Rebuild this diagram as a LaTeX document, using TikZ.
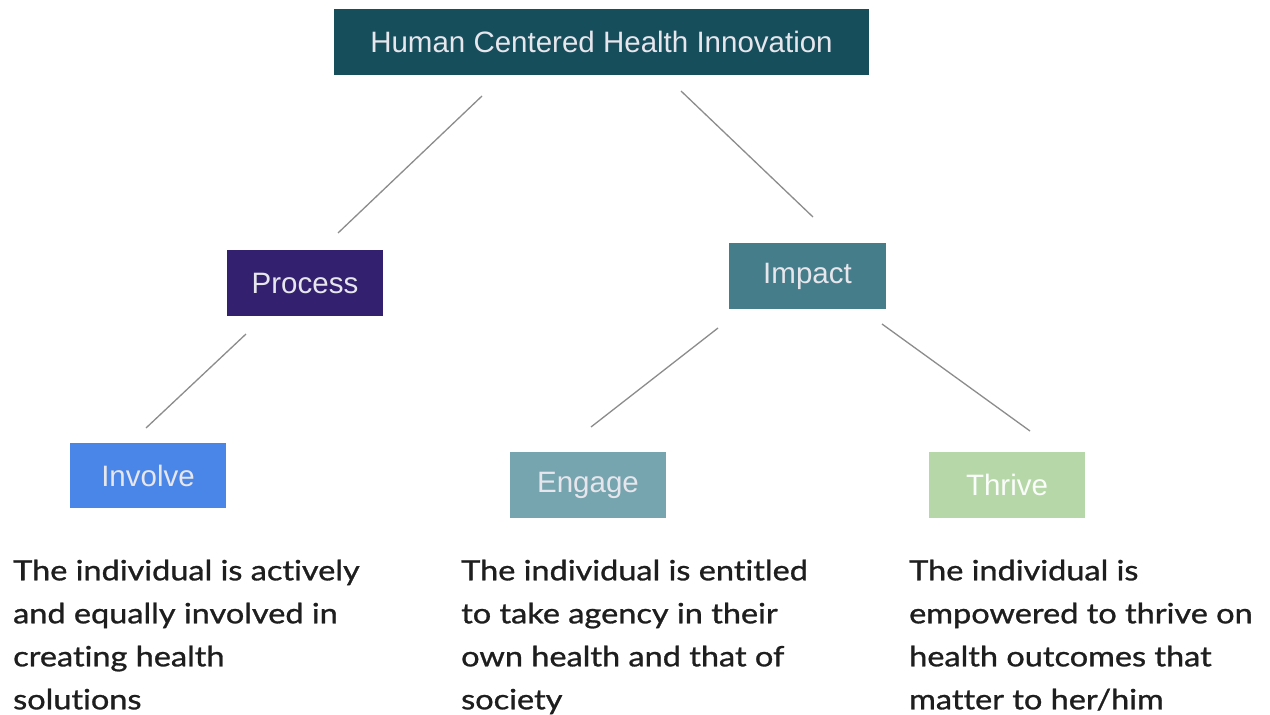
\documentclass[tikz,border=0pt]{standalone}
\usepackage{fontspec}
\setmainfont{Liberation Sans}
\newfontfamily\bodyfont[Ligatures=NoCommon, FakeStretch=1.16, FakeBold=1.0]{Lato}
\definecolor{hchiTop}{HTML}{164E5C}
\definecolor{hchiProcess}{HTML}{33206E}
\definecolor{hchiImpact}{HTML}{457E8A}
\definecolor{hchiInvolve}{HTML}{4A86E8}
\definecolor{hchiEngage}{HTML}{76A5AF}
\definecolor{hchiThrive}{HTML}{B6D7A8}
\definecolor{hchiLabel}{HTML}{E6E6EC}
\definecolor{hchiLink}{HTML}{8C8C8C}
\definecolor{hchiBody}{HTML}{1E1E1E}
\tikzset{
  box/.style={rectangle, inner sep=0pt, minimum width=156pt, minimum height=66pt,
    text=hchiLabel, font=\fontsize{29.5}{31}\selectfont},
  link/.style={draw=hchiLink, line width=1.3pt},
  caption/.style={anchor=north west, inner sep=0pt, align=left, text=hchiBody,
    font=\bodyfont\fontsize{28}{43}\selectfont},
}
\begin{document}
\begin{tikzpicture}[x=1pt, y=-1pt]
\useasboundingbox[fill=white] (0,0) rectangle (1270,715);

% boxes
\node[box, fill=hchiTop, minimum width=535pt] (top) at (601.5,42) {Human Centered Health Innovation};
\node[box, fill=hchiProcess] (process) at (305,283) {Process};
\node[box, fill=hchiImpact, minimum width=157pt] (impact) at (807.5,276) {Impact};
\node[box, fill=hchiInvolve, minimum height=65pt] (involve) at (148,475.5) {Involve};
\node[box, fill=hchiEngage] (engage) at (588,485) {Engage};
\node[box, fill=hchiThrive, text=white!95!hchiThrive] (thrive) at (1007,485) {Thrive};

% free-floating connector ends
\coordinate (topL) at (482,96);
\coordinate (procT) at (338,233);
\coordinate (topR) at (681,91);
\coordinate (impT) at (813,217);
\coordinate (procB) at (246,334);
\coordinate (invT) at (146,428);
\coordinate (impBL) at (718,328);
\coordinate (engT) at (591,427);
\coordinate (impBR) at (882,324);
\coordinate (thrT) at (1030,431);

\draw[link] (topL) -- (procT);
\draw[link] (topR) -- (impT);
\draw[link] (procB) -- (invT);
\draw[link] (impBL) -- (engT);
\draw[link] (impBR) -- (thrT);

% descriptions
\node[caption] (involveText) at (13,559.5) {The individual is actively\\and equally involved in\\creating health\\solutions};
\node[caption] (engageText) at (461,559.5) {The individual is entitled\\to take agency in their\\own health and that of\\society};
\node[caption] (thriveText) at (909,559.5) {The individual is\\empowered to thrive on\\health outcomes that\\matter to her/him};
\end{tikzpicture}
\end{document}
